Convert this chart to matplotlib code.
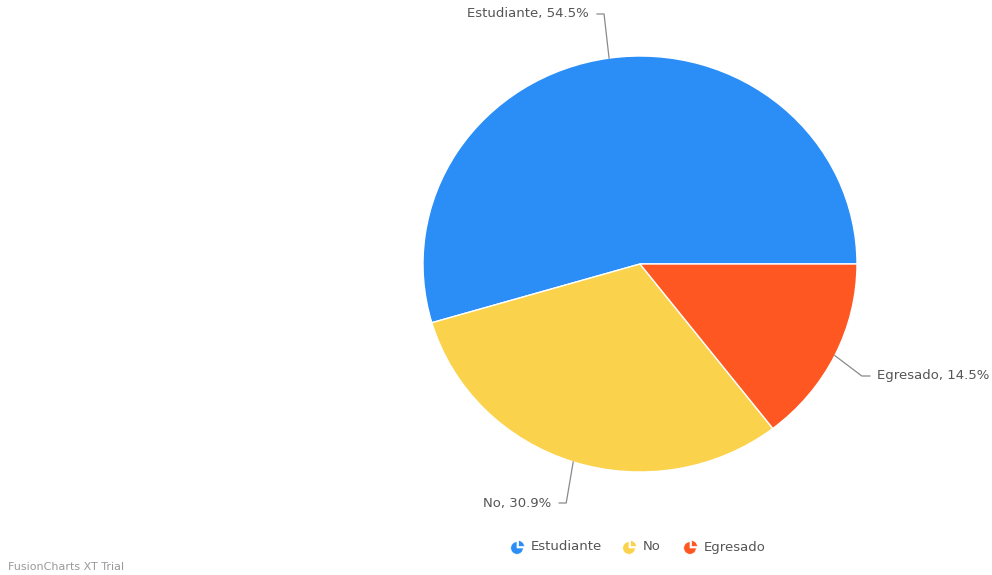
import numpy as np
import matplotlib
matplotlib.use('Agg')
import matplotlib.pyplot as plt
from matplotlib.patches import Wedge

# datos del grafico
categorias = ['Estudiante', 'No', 'Egresado']
porcentajes = [54.5, 30.9, 14.5]
colores = ['#2b8ef7', '#fbd24b', '#fe5722']

W, H = 992, 575
fig = plt.figure(figsize=(W / 100, H / 100), dpi=100)

# posicion de la torta en pixeles
cx, cy, rx, ry = 640, 264, 217, 208
ax_pie = fig.add_axes([(cx - rx) / W, (H - cy - ry) / H, 2 * rx / W, 2 * ry / H])
ax_pie.pie(porcentajes, colors=colores, startangle=0, counterclock=True,
           wedgeprops=dict(edgecolor='white', linewidth=1), radius=1, frame=True)
ax_pie.set_aspect('auto')
ax_pie.set_xlim(-1, 1)
ax_pie.set_ylim(-1, 1)
ax_pie.axis('off')

# capa superior para textos y lineas, en pixeles
ax = fig.add_axes([0, 0, 1, 1])
ax.set_xlim(0, W)
ax.set_ylim(H, 0)
ax.axis('off')
ax.patch.set_alpha(0)

gris = '#555555'
total = sum(porcentajes)
inicio = 0.0
for cat, p in zip(categorias, porcentajes):
    ang = inicio + 360 * p / total / 2
    inicio += 360 * p / total
    a = np.radians(ang)
    x0 = cx + rx * np.cos(a)
    y0 = cy - ry * np.sin(a)
    if cat == 'Estudiante':
        x1, y1 = x0 - 5, 14
        x2, ha = x1 - 7, 'right'
    elif cat == 'No':
        x1, y1 = x0 - 7, 503
        x2, ha = x1 - 7, 'right'
    else:
        x1, y1 = x0 + 27, 376
        x2, ha = x1 + 8, 'left'
    ax.plot([x0, x1, x2], [y0, y1, y1], color='#8a8a8a', lw=0.9)
    tx = x2 - 8 if ha == 'right' else x2 + 7
    ax.text(tx, y1, f'{cat}, {p}%', ha=ha, va='center', fontsize=9.5, color=gris)

# leyenda con iconos de torta (eje y invertido: cuarto separado arriba a la derecha)
xs_icono = [517, 629, 690]
for xi, cat, col in zip(xs_icono, categorias, colores):
    ax.add_patch(Wedge((xi, 548), 6.3, 0, 270, facecolor=col, edgecolor='white', lw=0.5))
    ax.add_patch(Wedge((xi + 1.6, 546.4), 5.8, 270, 360, facecolor=col, edgecolor='white', lw=0.5))
    ax.text(xi + 14, 547, cat, ha='left', va='center', fontsize=9.5, color=gris)

ax.text(8, 567, 'FusionCharts XT Trial', ha='left', va='center', fontsize=8, color='#9a9a9a')

fig.savefig('out.png', dpi=100, facecolor='white')
